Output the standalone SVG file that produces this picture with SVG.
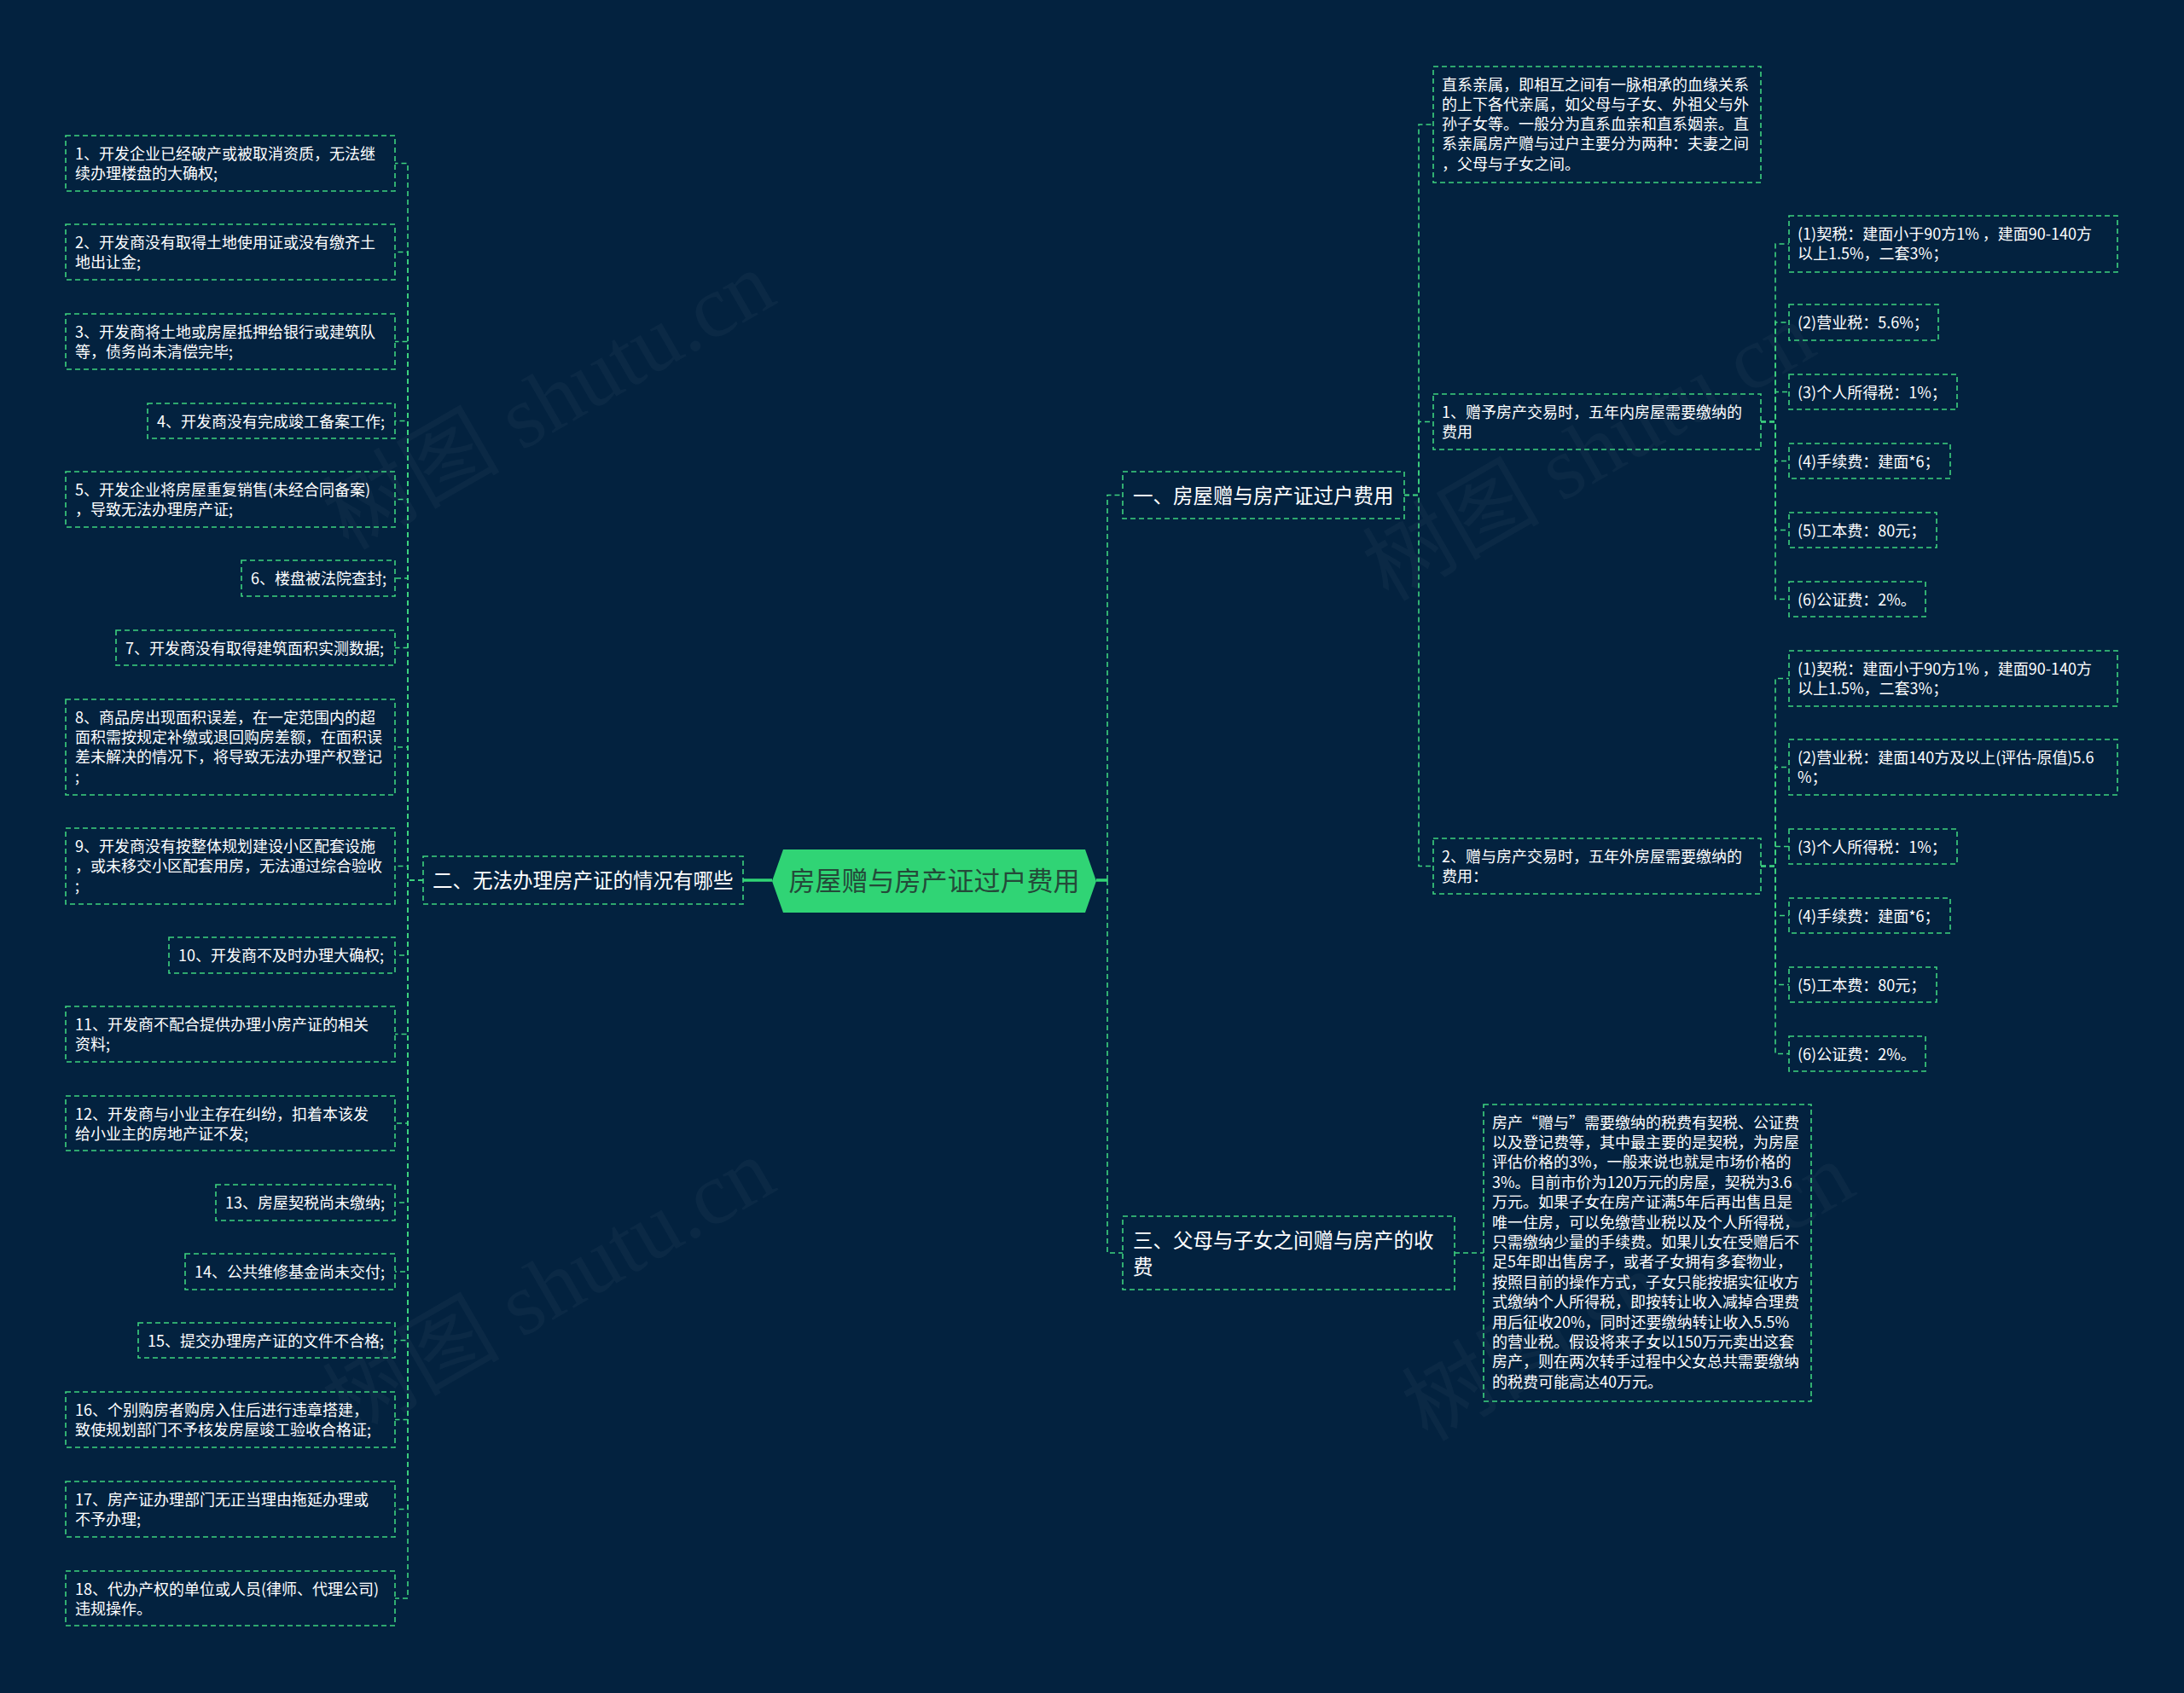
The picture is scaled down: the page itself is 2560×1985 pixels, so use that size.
<svg xmlns="http://www.w3.org/2000/svg" width="2560" height="1985" viewBox="0 0 2560 1985">
<style>
.bg{fill:#03223f}
.box{fill:none;stroke:#3ed37f;stroke-width:1.6;stroke-dasharray:6 4}
.conn{fill:none;stroke:#3ed37f;stroke-width:1.6;stroke-dasharray:6 4}
.solid{fill:none;stroke:#30d475;stroke-width:3.5}
.t{font-family:"Noto Sans CJK SC","Noto Sans",sans-serif;font-size:18px;fill:#ffffff}
.t1{font-family:"Noto Sans CJK SC","Noto Sans",sans-serif;font-size:23.5px;fill:#ffffff}
.tc{font-family:"Noto Sans CJK SC","Noto Sans",sans-serif;font-size:31px;fill:#244a39;text-anchor:middle}
.wm{font-family:"Liberation Serif","Noto Sans CJK SC",serif;font-size:104px;fill:#ffffff;fill-opacity:0.035}
</style>
<rect class="bg" x="0" y="0" width="2560" height="1985"/>
<g id="watermark">
<text class="wm" transform="translate(661,500) rotate(-30)" text-anchor="middle">树图 shutu.cn</text>
<text class="wm" transform="translate(1880,560) rotate(-30)" text-anchor="middle">树图 shutu.cn</text>
<text class="wm" transform="translate(661,1540) rotate(-30)" text-anchor="middle">树图 shutu.cn</text>
<text class="wm" transform="translate(1926,1545) rotate(-30)" text-anchor="middle">树图 shutu.cn</text>
</g>
<g id="connectors">
<path class="solid" d="M871 1032 H905"/>
<path class="solid" d="M1285 1032 H1298"/>
<path class="conn" d="M1298 1032 V580.5 H1316"/>
<path class="conn" d="M1298 1032 V1469 H1316"/>
<path class="conn" d="M1705 1469 H1739"/>
<path class="conn" d="M1646 580.5 H1663 V146 H1680"/>
<path class="conn" d="M1646 580.5 H1663 V494.5 H1680"/>
<path class="conn" d="M1646 580.5 H1663 V1015.5 H1680"/>
<path class="conn" d="M2064 494.5 H2081 V286 H2097"/>
<path class="conn" d="M2064 494.5 H2081 V378 H2097"/>
<path class="conn" d="M2064 494.5 H2081 V459.5 H2097"/>
<path class="conn" d="M2064 494.5 H2081 V540.5 H2097"/>
<path class="conn" d="M2064 494.5 H2081 V621.5 H2097"/>
<path class="conn" d="M2064 494.5 H2081 V702.5 H2097"/>
<path class="conn" d="M2064 1015.5 H2081 V795.5 H2097"/>
<path class="conn" d="M2064 1015.5 H2081 V899.5 H2097"/>
<path class="conn" d="M2064 1015.5 H2081 V992.5 H2097"/>
<path class="conn" d="M2064 1015.5 H2081 V1073.5 H2097"/>
<path class="conn" d="M2064 1015.5 H2081 V1154.5 H2097"/>
<path class="conn" d="M2064 1015.5 H2081 V1235.5 H2097"/>
<path class="conn" d="M496 1032 H478 V191.5 H463"/>
<path class="conn" d="M496 1032 H478 V295.5 H463"/>
<path class="conn" d="M496 1032 H478 V400.5 H463"/>
<path class="conn" d="M496 1032 H478 V493.5 H463"/>
<path class="conn" d="M496 1032 H478 V585.5 H463"/>
<path class="conn" d="M496 1032 H478 V678 H463"/>
<path class="conn" d="M496 1032 H478 V759.5 H463"/>
<path class="conn" d="M496 1032 H478 V876 H463"/>
<path class="conn" d="M496 1032 H478 V1015.5 H463"/>
<path class="conn" d="M496 1032 H478 V1120 H463"/>
<path class="conn" d="M496 1032 H478 V1212.5 H463"/>
<path class="conn" d="M496 1032 H478 V1317 H463"/>
<path class="conn" d="M496 1032 H478 V1410 H463"/>
<path class="conn" d="M496 1032 H478 V1491 H463"/>
<path class="conn" d="M496 1032 H478 V1571.5 H463"/>
<path class="conn" d="M496 1032 H478 V1664.5 H463"/>
<path class="conn" d="M496 1032 H478 V1769.5 H463"/>
<path class="conn" d="M496 1032 H478 V1874 H463"/>
</g>
<g id="root">
<polygon points="905,1033 918,996 1272,996 1285,1033 1272,1070 918,1070" fill="#30d475"/>
<text class="tc" x="1095" y="1044">房屋赠与房产证过户费用</text>
</g>
<g id="b1">
<rect class="box" x="1316" y="553" width="330" height="55"/>
<text class="t1" x="1328" y="589.5">一、房屋赠与房产证过户费用</text>
</g>
<g id="b2">
<rect class="box" x="496" y="1004" width="375" height="56"/>
<text class="t1" x="507" y="1041">二、无法办理房产证的情况有哪些</text>
</g>
<g id="b3">
<rect class="box" x="1316" y="1426" width="389" height="86"/>
<text class="t1" x="1328" y="1462.5">三、父母与子女之间赠与房产的收</text>
<text class="t1" x="1328" y="1493.5">费</text>
</g>
<g id="b3-detail">
<rect class="box" x="1739" y="1295" width="384" height="348"/>
<text class="t" x="1749" y="1322.5">房产“赠与”需要缴纳的税费有契税、公证费</text>
<text class="t" x="1749" y="1345.9">以及登记费等，其中最主要的是契税，为房屋</text>
<text class="t" x="1749" y="1369.3">评估价格的3%，一般来说也就是市场价格的</text>
<text class="t" x="1749" y="1392.7">3%。目前市价为120万元的房屋，契税为3.6</text>
<text class="t" x="1749" y="1416.1">万元。如果子女在房产证满5年后再出售且是</text>
<text class="t" x="1749" y="1439.5">唯一住房，可以免缴营业税以及个人所得税，</text>
<text class="t" x="1749" y="1462.9">只需缴纳少量的手续费。如果儿女在受赠后不</text>
<text class="t" x="1749" y="1486.3">足5年即出售房子，或者子女拥有多套物业，</text>
<text class="t" x="1749" y="1509.7">按照目前的操作方式，子女只能按据实征收方</text>
<text class="t" x="1749" y="1533.1">式缴纳个人所得税，即按转让收入减掉合理费</text>
<text class="t" x="1749" y="1556.5">用后征收20%，同时还要缴纳转让收入5.5%</text>
<text class="t" x="1749" y="1579.9">的营业税。假设将来子女以150万元卖出这套</text>
<text class="t" x="1749" y="1603.3">房产，则在两次转手过程中父女总共需要缴纳</text>
<text class="t" x="1749" y="1626.7">的税费可能高达40万元。</text>
</g>
<g id="b1-intro">
<rect class="box" x="1680" y="78" width="384" height="136"/>
<text class="t" x="1690" y="105.5">直系亲属，即相互之间有一脉相承的血缘关系</text>
<text class="t" x="1690" y="128.8">的上下各代亲属，如父母与子女、外祖父与外</text>
<text class="t" x="1690" y="152.1">孙子女等。一般分为直系血亲和直系姻亲。直</text>
<text class="t" x="1690" y="175.4">系亲属房产赠与过户主要分为两种：夫妻之间</text>
<text class="t" x="1690" y="198.7">，父母与子女之间。</text>
</g>
<g id="b1-1">
<rect class="box" x="1680" y="462" width="384" height="65"/>
<text class="t" x="1690" y="489.5">1、赠予房产交易时，五年内房屋需要缴纳的</text>
<text class="t" x="1690" y="512.8">费用</text>
</g>
<g id="b1-2">
<rect class="box" x="1680" y="983" width="384" height="65"/>
<text class="t" x="1690" y="1010.5">2、赠与房产交易时，五年外房屋需要缴纳的</text>
<text class="t" x="1690" y="1033.8">费用：</text>
</g>
<g id="b1-1-1">
<rect class="box" x="2097" y="253" width="385" height="66"/>
<text class="t" x="2107" y="280.5">(1)契税：建面小于90方1% ，建面90-140方</text>
<text class="t" x="2107" y="303.8">以上1.5%，二套3%；</text>
</g>
<g id="b1-1-2">
<rect class="box" x="2097" y="357" width="175" height="42"/>
<text class="t" x="2107" y="384.5">(2)营业税：5.6%；</text>
</g>
<g id="b1-1-3">
<rect class="box" x="2097" y="439" width="197" height="41"/>
<text class="t" x="2107" y="466.5">(3)个人所得税：1%；</text>
</g>
<g id="b1-1-4">
<rect class="box" x="2097" y="520" width="189" height="41"/>
<text class="t" x="2107" y="547.5">(4)手续费：建面*6；</text>
</g>
<g id="b1-1-5">
<rect class="box" x="2097" y="601" width="173" height="41"/>
<text class="t" x="2107" y="628.5">(5)工本费：80元；</text>
</g>
<g id="b1-1-6">
<rect class="box" x="2097" y="682" width="160" height="41"/>
<text class="t" x="2107" y="709.5">(6)公证费：2%。</text>
</g>
<g id="b1-2-1">
<rect class="box" x="2097" y="763" width="385" height="65"/>
<text class="t" x="2107" y="790.5">(1)契税：建面小于90方1% ，建面90-140方</text>
<text class="t" x="2107" y="813.8">以上1.5%，二套3%；</text>
</g>
<g id="b1-2-2">
<rect class="box" x="2097" y="867" width="385" height="65"/>
<text class="t" x="2107" y="894.5">(2)营业税：建面140方及以上(评估-原值)5.6</text>
<text class="t" x="2107" y="917.8">%；</text>
</g>
<g id="b1-2-3">
<rect class="box" x="2097" y="972" width="197" height="41"/>
<text class="t" x="2107" y="999.5">(3)个人所得税：1%；</text>
</g>
<g id="b1-2-4">
<rect class="box" x="2097" y="1053" width="189" height="41"/>
<text class="t" x="2107" y="1080.5">(4)手续费：建面*6；</text>
</g>
<g id="b1-2-5">
<rect class="box" x="2097" y="1134" width="173" height="41"/>
<text class="t" x="2107" y="1161.5">(5)工本费：80元；</text>
</g>
<g id="b1-2-6">
<rect class="box" x="2097" y="1215" width="160" height="41"/>
<text class="t" x="2107" y="1242.5">(6)公证费：2%。</text>
</g>
<g id="b2-1">
<rect class="box" x="77" y="159" width="386" height="65"/>
<text class="t" x="88" y="186.5">1、开发企业已经破产或被取消资质，无法继</text>
<text class="t" x="88" y="209.8">续办理楼盘的大确权;</text>
</g>
<g id="b2-2">
<rect class="box" x="77" y="263" width="386" height="65"/>
<text class="t" x="88" y="290.5">2、开发商没有取得土地使用证或没有缴齐土</text>
<text class="t" x="88" y="313.8">地出让金;</text>
</g>
<g id="b2-3">
<rect class="box" x="77" y="368" width="386" height="65"/>
<text class="t" x="88" y="395.5">3、开发商将土地或房屋抵押给银行或建筑队</text>
<text class="t" x="88" y="418.8">等，债务尚未清偿完毕;</text>
</g>
<g id="b2-4">
<rect class="box" x="173" y="473" width="290" height="41"/>
<text class="t" x="184" y="500.5">4、开发商没有完成竣工备案工作;</text>
</g>
<g id="b2-5">
<rect class="box" x="77" y="553" width="386" height="65"/>
<text class="t" x="88" y="580.5">5、开发企业将房屋重复销售(未经合同备案)</text>
<text class="t" x="88" y="603.8">，导致无法办理房产证;</text>
</g>
<g id="b2-6">
<rect class="box" x="283" y="657" width="180" height="42"/>
<text class="t" x="294" y="684.5">6、楼盘被法院查封;</text>
</g>
<g id="b2-7">
<rect class="box" x="136" y="739" width="327" height="41"/>
<text class="t" x="147" y="766.5">7、开发商没有取得建筑面积实测数据;</text>
</g>
<g id="b2-8">
<rect class="box" x="77" y="820" width="386" height="112"/>
<text class="t" x="88" y="847.5">8、商品房出现面积误差，在一定范围内的超</text>
<text class="t" x="88" y="870.8">面积需按规定补缴或退回购房差额，在面积误</text>
<text class="t" x="88" y="894.1">差未解决的情况下，将导致无法办理产权登记</text>
<text class="t" x="88" y="917.4">;</text>
</g>
<g id="b2-9">
<rect class="box" x="77" y="971" width="386" height="89"/>
<text class="t" x="88" y="998.5">9、开发商没有按整体规划建设小区配套设施</text>
<text class="t" x="88" y="1021.8">，或未移交小区配套用房，无法通过综合验收</text>
<text class="t" x="88" y="1045.1">;</text>
</g>
<g id="b2-10">
<rect class="box" x="198" y="1099" width="265" height="42"/>
<text class="t" x="209" y="1126.5">10、开发商不及时办理大确权;</text>
</g>
<g id="b2-11">
<rect class="box" x="77" y="1180" width="386" height="65"/>
<text class="t" x="88" y="1207.5">11、开发商不配合提供办理小房产证的相关</text>
<text class="t" x="88" y="1230.8">资料;</text>
</g>
<g id="b2-12">
<rect class="box" x="77" y="1285" width="386" height="64"/>
<text class="t" x="88" y="1312.5">12、开发商与小业主存在纠纷，扣着本该发</text>
<text class="t" x="88" y="1335.8">给小业主的房地产证不发;</text>
</g>
<g id="b2-13">
<rect class="box" x="253" y="1389" width="210" height="42"/>
<text class="t" x="264" y="1416.5">13、房屋契税尚未缴纳;</text>
</g>
<g id="b2-14">
<rect class="box" x="217" y="1470" width="246" height="42"/>
<text class="t" x="228" y="1497.5">14、公共维修基金尚未交付;</text>
</g>
<g id="b2-15">
<rect class="box" x="162" y="1551" width="301" height="41"/>
<text class="t" x="173" y="1578.5">15、提交办理房产证的文件不合格;</text>
</g>
<g id="b2-16">
<rect class="box" x="77" y="1632" width="386" height="65"/>
<text class="t" x="88" y="1659.5">16、个别购房者购房入住后进行违章搭建，</text>
<text class="t" x="88" y="1682.8">致使规划部门不予核发房屋竣工验收合格证;</text>
</g>
<g id="b2-17">
<rect class="box" x="77" y="1737" width="386" height="65"/>
<text class="t" x="88" y="1764.5">17、房产证办理部门无正当理由拖延办理或</text>
<text class="t" x="88" y="1787.8">不予办理;</text>
</g>
<g id="b2-18">
<rect class="box" x="77" y="1842" width="386" height="64"/>
<text class="t" x="88" y="1869.5">18、代办产权的单位或人员(律师、代理公司)</text>
<text class="t" x="88" y="1892.8">违规操作。</text>
</g>
</svg>
